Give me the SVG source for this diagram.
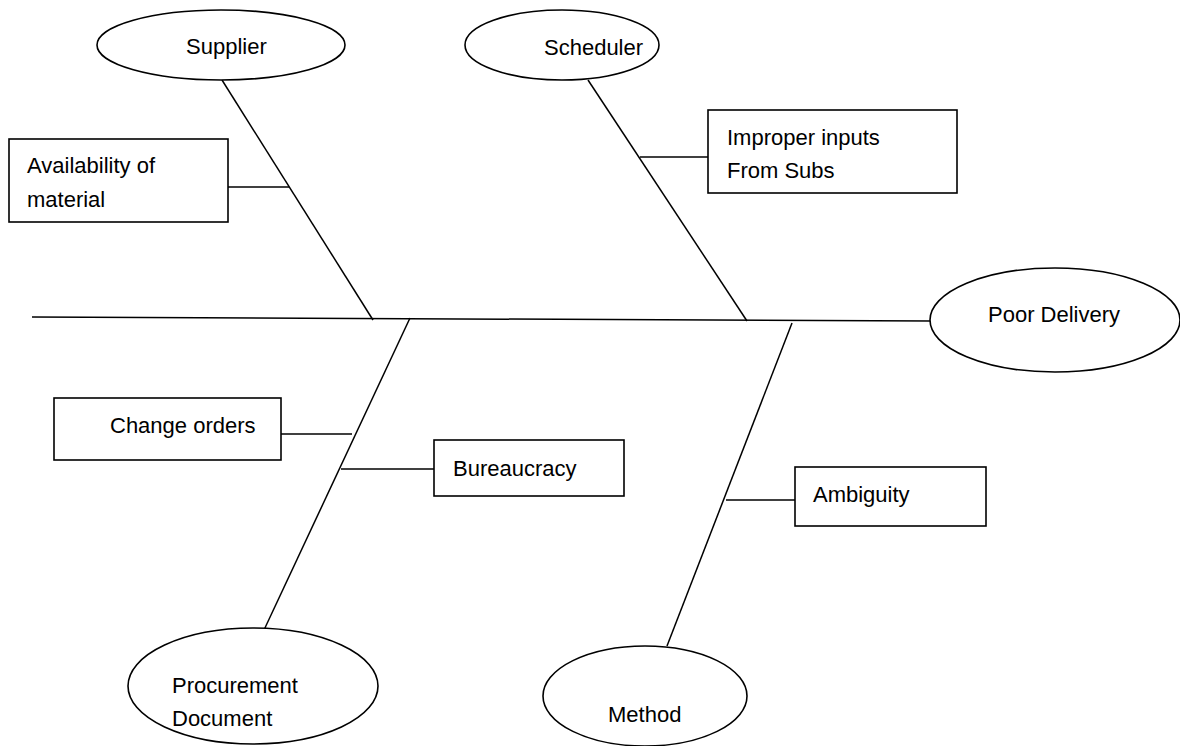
<svg xmlns="http://www.w3.org/2000/svg" width="1180" height="746" viewBox="0 0 1180 746">
<style>
.n{fill:#fff;stroke:#000;stroke-width:1.6}
.c{stroke:#000;stroke-width:1.5;fill:none}
text{font-family:"Liberation Sans",Arial,sans-serif;font-size:22px;fill:#000}
</style>
<rect width="1180" height="746" fill="#fff"/>
<g id="connectors">
<line class="c" x1="32" y1="317" x2="931" y2="321"/>
<line class="c" x1="222" y1="80" x2="373" y2="320"/>
<line class="c" x1="588" y1="80" x2="747" y2="321"/>
<line class="c" x1="410" y1="318" x2="264" y2="630"/>
<line class="c" x1="792" y1="323" x2="667" y2="646"/>
<line class="c" x1="228" y1="187" x2="289" y2="187"/>
<line class="c" x1="640" y1="157" x2="708" y2="157"/>
<line class="c" x1="281" y1="434" x2="352" y2="434"/>
<line class="c" x1="341" y1="469" x2="434" y2="469"/>
<line class="c" x1="726" y1="500" x2="795" y2="500"/>
</g>
<g id="supplier"><ellipse class="n" cx="221" cy="45" rx="124" ry="35"/><text x="186" y="54">Supplier</text></g>
<g id="scheduler"><ellipse class="n" cx="562" cy="45" rx="97" ry="35"/><text x="544" y="55">Scheduler</text></g>
<g id="availability"><rect class="n" x="9" y="139" width="219" height="83"/><text x="27" y="173">Availability of</text><text x="27" y="207">material</text></g>
<g id="improper"><rect class="n" x="708" y="110" width="249" height="83"/><text x="727" y="145">Improper inputs</text><text x="727" y="178">From Subs</text></g>
<g id="poor-delivery"><ellipse class="n" cx="1055" cy="320" rx="125" ry="52"/><text x="988" y="322">Poor Delivery</text></g>
<g id="change-orders"><rect class="n" x="54" y="398" width="227" height="62"/><text x="110" y="433">Change orders</text></g>
<g id="bureaucracy"><rect class="n" x="434" y="440" width="190" height="56"/><text x="453" y="476">Bureaucracy</text></g>
<g id="ambiguity"><rect class="n" x="795" y="467" width="191" height="59"/><text x="813" y="502">Ambiguity</text></g>
<g id="procurement"><ellipse class="n" cx="253" cy="686" rx="125" ry="58"/><text x="172" y="693">Procurement</text><text x="172" y="726">Document</text></g>
<g id="method"><ellipse class="n" cx="645" cy="696" rx="102" ry="50"/><text x="608" y="722">Method</text></g>
</svg>
